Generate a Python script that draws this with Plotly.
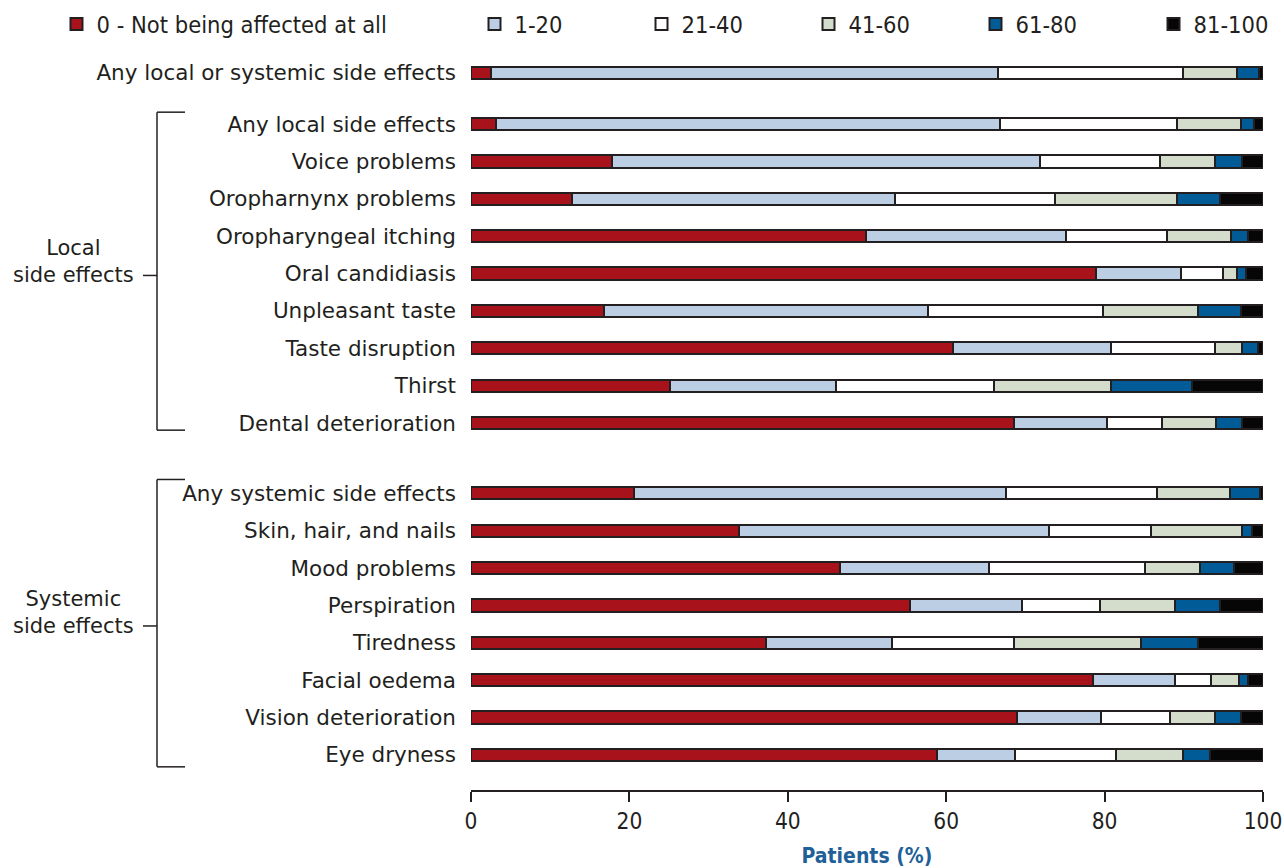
import plotly.graph_objects as go

# ---------------- data ----------------
categories = [
    "Any local or systemic side effects",
    "Any local side effects", "Voice problems", "Oropharnynx problems",
    "Oropharyngeal itching", "Oral candidiasis", "Unpleasant taste",
    "Taste disruption", "Thirst", "Dental deterioration",
    "Any systemic side effects", "Skin, hair, and nails", "Mood problems",
    "Perspiration", "Tiredness", "Facial oedema", "Vision deterioration",
    "Eye dryness",
]
series_names = ["0 - Not being affected at all", "1-20", "21-40", "41-60", "61-80", "81-100"]

v_0 = [2.5, 3.2, 17.8, 12.8, 49.9, 78.9, 16.8, 60.8, 25.1, 68.5,
       20.6, 33.8, 46.6, 55.4, 37.2, 78.5, 68.9, 58.9]
v_1_20 = [64.0, 63.6, 54.0, 40.7, 25.2, 10.7, 40.9, 20.0, 21.0, 11.8,
          46.9, 39.2, 18.8, 14.2, 16.0, 10.4, 10.7, 9.8]
v_21_40 = [23.4, 22.3, 15.2, 20.2, 12.8, 5.3, 22.1, 13.1, 19.9, 6.9,
           19.1, 12.8, 19.7, 9.8, 15.3, 4.5, 8.6, 12.8]
v_41_60 = [6.8, 8.1, 6.9, 15.4, 8.1, 1.8, 12.0, 3.5, 14.8, 6.9,
           9.2, 11.6, 6.9, 9.5, 16.1, 3.6, 5.7, 8.4]
v_61_80 = [2.8, 1.6, 3.5, 5.5, 2.1, 1.2, 5.4, 2.0, 10.2, 3.3,
           3.8, 1.2, 4.3, 5.7, 7.2, 1.1, 3.3, 3.4]
v_81_100 = [0.5, 1.2, 2.6, 5.4, 1.9, 2.1, 2.8, 0.6, 9.0, 2.6,
            0.4, 1.4, 3.7, 5.4, 8.2, 1.9, 2.8, 6.7]

x_ticks = [0, 20, 40, 60, 80, 100]
group_labels = ["Local<br>side effects", "Systemic<br>side effects"]

# ---------------- layout helpers ----------------
n_local, n_sys = 9, 8
gap_top, gap_mid = 1.37, 1.88
row_pos = [0.0]
row_pos += [gap_top + i for i in range(n_local)]
sys_start = row_pos[-1] + gap_mid
row_pos += [sys_start + i for i in range(n_sys)]

colors = ["#a8131b", "#bccee4", "#ffffff", "#d4dccb", "#005b96", "#060606"]
series_vals = [v_0, v_1_20, v_21_40, v_41_60, v_61_80, v_81_100]
legend_ids = ["legend", "legend2", "legend2", "legend2", "legend2", "legend3"]
outline = "#231f20"

fig = go.Figure()
for name, vals, col, lg in zip(series_names, series_vals, colors, legend_ids):
    fig.add_trace(go.Bar(
        x=vals, y=row_pos, orientation="h", name=name,
        marker=dict(color=col, line=dict(color=outline, width=2)),
        width=0.33, legend=lg,
        hovertemplate="%{x}%<extra>" + name + "</extra>",
    ))

label_font = dict(family="DejaVu Sans, Liberation Sans, Arial", size=21.5, color="#231f20")
group_font = dict(family="DejaVu Sans, Liberation Sans, Arial", size=21, color="#231f20")
narrow = "Liberation Sans Narrow, Arial Narrow, DejaVu Sans Condensed"
legend_font = dict(family=narrow, size=23.5, color="#231f20")
tick_font = dict(family=narrow, size=22.5, color="#231f20")

def px2paper(px):
    return (px - 471) / 792.0

leg_common = dict(orientation="h", y=1.042, yanchor="middle", xanchor="left",
                  font=legend_font, bgcolor="rgba(0,0,0,0)", traceorder="normal")

fig.update_layout(
    width=1284, height=868,
    margin=dict(l=471, r=21, t=55, b=78, autoexpand=False),
    paper_bgcolor="white", plot_bgcolor="white",
    barmode="stack", bargap=0,
    showlegend=True,
    legend=dict(x=px2paper(56.5), **leg_common),
    legend2=dict(x=px2paper(474.5), entrywidth=122, **leg_common),
    legend3=dict(x=px2paper(1153.5), **leg_common),
    xaxis=dict(range=[0, 100], tickvals=x_ticks, ticks="outside", ticklen=10,
               tickwidth=2, tickcolor="#231f20", showline=True, linewidth=2,
               linecolor="#231f20", showgrid=False, zeroline=False,
               tickfont=tick_font, fixedrange=True,
               title=dict(text="<b>Patients (%)</b>", standoff=16,
                          font=dict(family=narrow, size=21, color="#1f6099"))),
    yaxis=dict(range=[19.19, -0.48], tickvals=row_pos, ticktext=categories,
               ticks="", showline=False, showgrid=False, zeroline=False,
               tickfont=label_font, ticklabelstandoff=14, fixedrange=True),
)

# ---------------- group brackets ----------------
groups = [
    (row_pos[1], row_pos[n_local], -0.32, 0.19),
    (row_pos[n_local + 1], row_pos[-1], -0.37, 0.32),
]
xv, xr, xl, xlab = px2paper(157), px2paper(185), px2paper(143), px2paper(73)
for (top, bot, dt, db), lab in zip(groups, group_labels):
    y0, y1 = top + dt, bot + db
    mid = (top + bot) / 2 + 0.05
    line = dict(color="#231f20", width=1.5)
    fig.add_shape(type="line", xref="paper", yref="y", x0=xv, x1=xv, y0=y0, y1=y1, line=line)
    fig.add_shape(type="line", xref="paper", yref="y", x0=xv, x1=xr, y0=y0, y1=y0, line=line)
    fig.add_shape(type="line", xref="paper", yref="y", x0=xv, x1=xr, y0=y1, y1=y1, line=line)
    fig.add_shape(type="line", xref="paper", yref="y", x0=xl, x1=xv, y0=mid, y1=mid, line=line)
    fig.add_annotation(xref="paper", yref="y", x=xlab, y=mid - 0.37, text=lab,
                       showarrow=False, xanchor="center", yanchor="middle",
                       font=group_font, align="center")

fig.write_html("out.html", config={"displayModeBar": False},
               post_script="document.body.style.margin='0';document.body.style.overflow='hidden';")
